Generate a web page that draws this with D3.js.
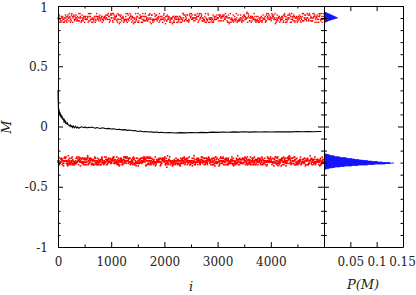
<!DOCTYPE html>
<html>
<head>
<meta charset="utf-8">
<script src="https://cdn.jsdelivr.net/npm/d3@7"></script>
</head>
<body style="margin:0;background:#fff">
<div class="chart"></div>
<script>
// running average of M against sweep i
var lineI = [0,3,6,9,12,16,20,25,30,35,40,45,50,55,60,66,72,78,84,90,96,102,110,118,126,134,142,150,160,170,180,190,200,215,230,245,260,275,290,310,330,350,370,390,420,450,480,510,540,570,600,630,660,700,730,760,800,830,870,900,950,1000,1050,1100,1150,1200,1250,1300,1350,1400,1450,1500,1550,1600,1650,1700,1750,1800,1850,1900,1950,2000,2100,2200,2300,2400,2500,2600,2700,2800,2900,3000,3100,3200,3300,3400,3500,3600,3700,3800,3900,4000,4100,4200,4300,4400,4500,4600,4700,4800,4900,4950];
var lineM = [0.30,0.24,0.18,0.14,0.12,0.15,0.11,0.13,0.10,0.12,0.09,0.11,0.08,0.10,0.085,0.07,0.09,0.075,0.06,0.075,0.055,0.065,0.045,0.055,0.04,0.045,0.03,0.035,0.025,0.02,0.028,0.015,0.012,0.005,0.012,-0.002,0.006,-0.008,0.004,-0.01,0.002,-0.012,-0.004,-0.014,-0.006,-0.002,-0.01,-0.004,-0.012,-0.006,-0.01,-0.004,-0.009,-0.014,-0.008,-0.012,-0.016,-0.011,-0.015,-0.019,-0.016,-0.021,-0.019,-0.025,-0.023,-0.028,-0.026,-0.032,-0.029,-0.035,-0.033,-0.041,-0.038,-0.044,-0.041,-0.046,-0.044,-0.049,-0.046,-0.051,-0.048,-0.052,-0.050,-0.054,-0.051,-0.053,-0.050,-0.052,-0.049,-0.051,-0.047,-0.049,-0.046,-0.048,-0.045,-0.047,-0.044,-0.047,-0.045,-0.046,-0.044,-0.046,-0.043,-0.045,-0.043,-0.045,-0.042,-0.044,-0.042,-0.043,-0.041,-0.042];

// sampled M, two bands; one digit per sample, 0..9 = offset from band centre
var upperCenter = 0.895;
var upperSpread = 0.012;
var upperDigits =
  "5364725846354726453846537254816354725463254637584645736254365364728541346527453674536258464365274853" +
  "4635274586536472543835476254646453728456457263548136547253465463728543437526453665473258463456274531" +
  "5473625486436527453863547258462547365438465372546153647283543457264538645372548645362745835364725463" +
  "4753625846354627453854637284516354725436457362584634652745395647325468437526458364537285463546275364" +
  "5364725846463527453835476254866453725463457263584653647285413456274536745362584643652745385463728456" +
  "4635728546354726458354637258466354725436254637584645736254635364728543346527453864537258464536274583" +
  "5473625846436527453863547254863547264538465372584653647284534375264536654732584634562745385364725463" +
  "47536258463546274538546372845663547254364573625846";
var lowerCenter = -0.29;
var lowerSpread = 0.0105;
var lowerDigits =
  "4536254743542637451264534736254357246354845362743526453754613547265438462537415263475463285436274571" +
  "3546257364472536453814653742635447362549365427534625746384574365274736524853647136547283546435274613" +
  "5364725438465732645174352647385246357429463572435605473654283564725463457263845163542758464537264352" +
  "4625374856354726453754637284542635471835475634265437654253464538264759364527463554273645416354827345" +
  "5743625486435276453462475364513546725648457362543724657384255364275463472536458934562746357425364351" +
  "3654725846543726435246582734651547365243645372845635746254364752635847256347453658473625414365274652" +
  "6453724536472563478535462753644653725418534627564372546354263645728354456372854163547256483457264539" +
  "4753625468536427534234657285464573625471635482735425463754265473625846364527453674526354184563725364" +
  "5364728543645372546425473658454365274638574635245734562758364657325461537462543845362745926453728354" +
  "4635728456354627453854637258467354625347456372548625364756435647325468437526453164537284573546275364" +
  "5473625846436527485365437254683456274539564732548643756245386354725846354726458146537254365364728453";

// P(M) histogram, bin centres and heights
var histM = [0.952,0.948,0.944,0.940,0.936,0.932,0.928,0.924,0.920,0.916,0.912,0.908,0.904,0.900,0.896,0.892,0.888,0.884,0.880,0.876,0.872,0.868,0.864,
  -0.226,-0.230,-0.234,-0.238,-0.242,-0.246,-0.250,-0.254,-0.258,-0.262,-0.266,-0.270,-0.274,-0.278,-0.282,-0.286,-0.290,-0.294,-0.298,-0.302,-0.306,-0.310,-0.314,-0.318,-0.322,-0.326,-0.330,-0.334,-0.338,-0.342,-0.346,-0.350,-0.354];
var histP = [0.002,0.004,0.006,0.008,0.010,0.012,0.014,0.016,0.018,0.020,0.022,0.024,0.026,0.025,0.022,0.019,0.016,0.013,0.010,0.008,0.006,0.004,0.002,
  0.004,0.008,0.011,0.013,0.019,0.021,0.029,0.032,0.042,0.045,0.054,0.059,0.067,0.074,0.083,0.091,0.102,0.111,0.125,0.133,0.127,0.116,0.096,0.083,0.065,0.053,0.039,0.031,0.021,0.016,0.010,0.006,0.003];
var histBin = 0.004;

var yTicks = [-1,-0.5,0,0.5,1];
var yMinor = [-0.9,-0.8,-0.7,-0.6,-0.4,-0.3,-0.2,-0.1,0.1,0.2,0.3,0.4,0.6,0.7,0.8,0.9];
var iTicks = [0,1000,2000,3000,4000];
var iMinor = [500,1500,2500,3500,4500];
var pTicks = [0.05,0.1,0.15];

var font = "DejaVu Serif";

var svg = d3.select(".chart")
    .append("svg")
    .attr("width", 416)
    .attr("height", 295);

var x = d3.scaleLinear().domain([0,5000]).range([58,324]);
var y = d3.scaleLinear().domain([-1,1]).range([247,6]);
var p = d3.scaleLinear().domain([0,0.15]).range([324,403]);

// digits are read with a stride so that neighbours on the i axis are far apart in the string
function band(digits, center, spread) {
    var n = digits.length;
    return digits.split("").map(function (c, k) {
        return { i: ((k * 37) % n) * 5000 / n, m: center + (+c - 4.5) * spread };
    });
}

function dots(data, size) {
    svg.append("g")
        .selectAll("rect")
        .data(data)
        .enter()
            .append("rect")
            .attr("x", function (d) { return x(d.i) - size / 2; })
            .attr("y", function (d) { return y(d.m) - size / 2; })
            .attr("width", size)
            .attr("height", size)
            .attr("fill", "#ff0000");
}
dots(band(upperDigits, upperCenter, upperSpread), 1.4);
dots(band(lowerDigits, lowerCenter, lowerSpread), 1.6);

// running average
var line = d3.line()
    .x(function (d, k) { return x(lineI[k]); })
    .y(function (d) { return y(d); });
svg.append("path")
    .datum(lineM)
    .attr("d", line)
    .attr("fill", "none")
    .attr("stroke", "#000")
    .attr("stroke-width", 1.1);

// histogram in the side panel
svg.append("g")
    .selectAll("rect")
    .data(histM)
    .enter()
        .append("rect")
        .attr("x", p(0))
        .attr("y", function (d) { return y(d + histBin / 2); })
        .attr("width", function (d, k) { return p(histP[k]) - p(0); })
        .attr("height", y(0) - y(histBin) + 0.3)
        .attr("fill", "#0000ff");

// axes, gnuplot style ticks pointing in
var fmt = function (d) { return String(d); };
function ax(axis, tx, ty) {
    var g = svg.append("g")
        .attr("transform", "translate(" + tx + "," + ty + ")")
        .call(axis);
    g.select(".domain").remove();
    g.attr("font-family", font).attr("font-size", 12);
    g.selectAll("line").attr("stroke", "#000");
    g.selectAll("text").attr("fill", "#222");
    return g;
}
ax(d3.axisLeft(y).tickValues(yTicks).tickSize(-5).tickPadding(10).tickFormat(fmt), 58, 0)
    .selectAll("text").attr("dy", function (d) { return d === 1 ? "0.45em" : "0.35em"; });
ax(d3.axisLeft(y).tickValues(yMinor).tickSize(-2.5).tickFormat(""), 58, 0);
ax(d3.axisRight(y).tickValues(yTicks).tickSize(-6).tickFormat(""), 324, 0);
ax(d3.axisRight(y).tickValues(yMinor).tickSize(-3).tickFormat(""), 324, 0);
ax(d3.axisLeft(y).tickValues(yTicks).tickSize(-5).tickFormat(""), 324, 0);
ax(d3.axisLeft(y).tickValues(yMinor).tickSize(-3).tickFormat(""), 324, 0);
ax(d3.axisRight(y).tickValues(yTicks).tickSize(-5).tickFormat(""), 403, 0);
ax(d3.axisRight(y).tickValues(yMinor).tickSize(-2.5).tickFormat(""), 403, 0);

ax(d3.axisBottom(x).tickValues(iTicks).tickSize(-5).tickPadding(10).tickFormat(fmt), 0, 247);
ax(d3.axisBottom(x).tickValues(iMinor).tickSize(-2.5).tickFormat(""), 0, 247);
ax(d3.axisTop(x).tickValues(iTicks).tickSize(-5).tickFormat(""), 0, 6);
ax(d3.axisTop(x).tickValues(iMinor).tickSize(-2.5).tickFormat(""), 0, 6);
ax(d3.axisBottom(p).tickValues(pTicks).tickSize(-5).tickPadding(10).tickFormat(fmt), 0, 247)
    .selectAll("text").attr("dx", function (d) { return d === 0.15 ? -1 : 0; });
ax(d3.axisTop(p).tickValues(pTicks).tickSize(-5).tickFormat(""), 0, 6);

// frames
svg.append("path")
    .attr("d", "M58.5,6.5H403.5V247.5H58.5Z M324.5,6.5V247.5")
    .attr("fill", "none")
    .attr("stroke", "#000")
    .attr("stroke-width", 1);

// axis labels
function label(t) {
    return svg.append("text")
        .attr("font-family", font)
        .attr("font-size", 13)
        .attr("font-style", "italic")
        .attr("fill", "#222")
        .attr("text-anchor", "middle")
        .text(t);
}
label("i").attr("x", 191).attr("y", 291);
label("P(M)").attr("x", 363).attr("y", 289);
label("M").attr("transform", "translate(11,127) rotate(-90)");
</script>
</body>
</html>
